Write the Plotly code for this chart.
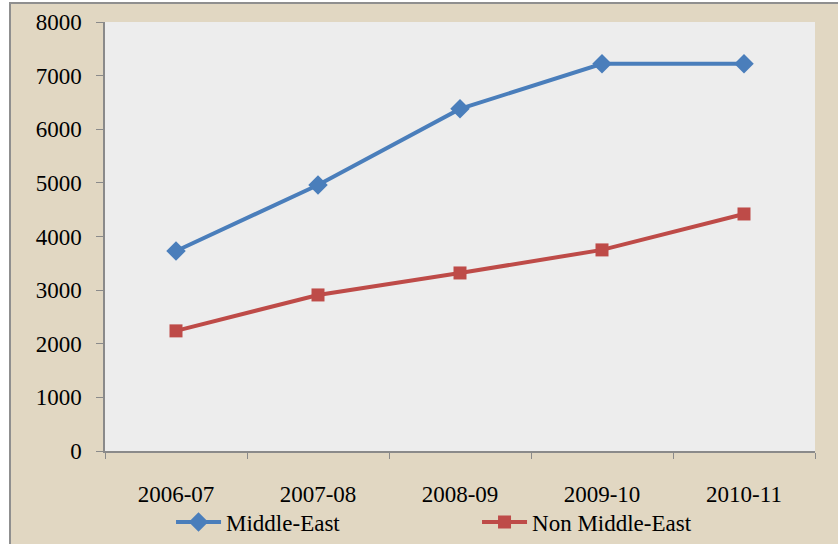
import plotly.graph_objects as go

# Financial years on the category axis
years = ["2006-07", "2007-08", "2008-09", "2009-10", "2010-11"]

# Series values
middle_east = [3730, 4960, 6380, 7220, 7220]
non_middle_east = [2240, 2910, 3320, 3750, 4420]

# Value axis ticks
y_ticks = [0, 1000, 2000, 3000, 4000, 5000, 6000, 7000, 8000]

W, H = 838, 544
L, R, T, B = 105, 23, 22, 93
plot_w = W - L - R
plot_h = H - T - B

FONT = "Liberation Serif, Times New Roman, serif"

fig = go.Figure()

fig.add_trace(go.Scatter(
    x=years, y=middle_east, name="Middle-East",
    mode="lines+markers",
    line=dict(color="#4a7ebb", width=4),
    marker=dict(symbol="diamond", size=15, color="#4a7ebb"),
))
fig.add_trace(go.Scatter(
    x=years, y=non_middle_east, name="Non Middle-East",
    mode="lines+markers",
    line=dict(color="#be4b48", width=4),
    marker=dict(symbol="square", size=13, color="#be4b48"),
))

# Beige chart frame, offset from the page corner, and the pale plot area
frame_x0 = (10 - L) / plot_w
frame_y1 = (H - B - 3) / plot_h
shapes = [
    dict(type="rect", xref="paper", yref="paper", layer="below",
         x0=frame_x0, x1=1.2, y0=-0.4, y1=frame_y1,
         fillcolor="#e1d7c2", line=dict(color="#8f8f8f", width=2)),
    dict(type="rect", xref="paper", yref="paper", layer="below",
         x0=0, x1=1, y0=0, y1=1,
         fillcolor="#ededed", line=dict(width=0)),
]

fig.update_layout(
    width=W, height=H,
    margin=dict(l=L, r=R, t=T, b=B, autoexpand=False),
    paper_bgcolor="white",
    plot_bgcolor="rgba(0,0,0,0)",
    shapes=shapes,
    font=dict(family=FONT, size=23, color="black"),
    showlegend=True,
    legend=dict(
        orientation="h",
        x=0.093, xanchor="left",
        y=-(522 - (H - B)) / plot_h, yanchor="middle",
        entrywidth=246,
        font=dict(family=FONT, size=23),
        bgcolor="rgba(0,0,0,0)",
        itemwidth=45,
    ),
    xaxis=dict(
        type="category",
        range=[-0.5, len(years) - 0.5],
        automargin=False,
        showgrid=False, zeroline=False,
        showline=True, linecolor="#8a8a8a", linewidth=1.5,
        ticks="outside", tickson="boundaries", ticklen=6,
        tickcolor="#8a8a8a",
        ticklabelstandoff=22,
        tickfont=dict(family=FONT, size=23),
    ),
    yaxis=dict(
        range=[0, 8000],
        automargin=False,
        tickvals=y_ticks,
        showgrid=False, zeroline=False,
        showline=True, linecolor="#8a8a8a", linewidth=1.5,
        ticks="outside", ticklen=7, tickcolor="#8a8a8a",
        ticklabelstandoff=10,
        tickfont=dict(family=FONT, size=23),
    ),
)

fig.write_html("out.html")
